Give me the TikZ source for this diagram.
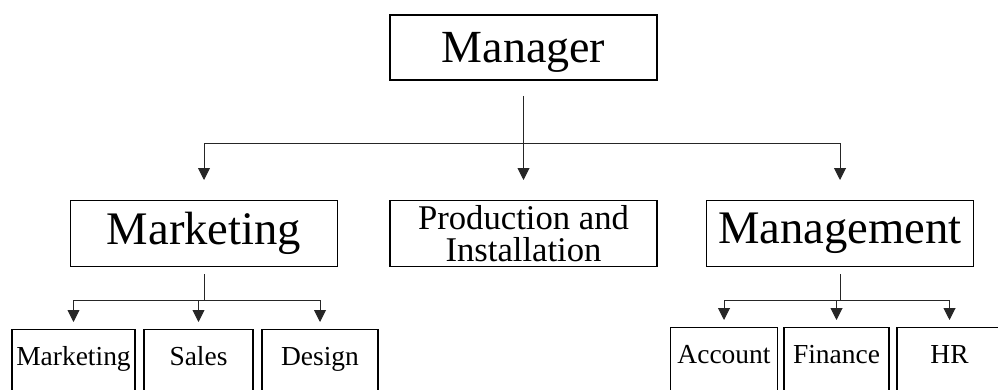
\documentclass[tikz,border=0pt]{standalone}
\usepackage{fontspec}
\setmainfont{Liberation Serif}
\usepackage{tikz}
\usetikzlibrary{arrows.meta}
\tikzstyle{head} = [rectangle, minimum width=200pt, minimum height=49pt, text height=23pt, text depth=1pt, text centered, draw=black, line width=1.1pt, font=\fontsize{34.5}{36}\selectfont]
\tikzstyle{dept} = [rectangle, anchor=north, minimum width=200pt, minimum height=49.5pt, align=center, draw=black, line width=1.1pt, font=\fontsize{35}{38}\selectfont]
\tikzstyle{unit} = [rectangle, anchor=north, inner xsep=1.5pt, inner ysep=0pt, text height=27pt, text depth=40pt, draw=black, line width=1.1pt, font=\fontsize{20.6}{24}\selectfont]
\tikzstyle{link} = [line width=0.7pt, draw=black!85]
\tikzstyle{arrow} = [link, -{Triangle[width=9pt,length=9pt]}]

\begin{document}
\begin{tikzpicture}[x=0.75pt, y=-0.75pt]
  \useasboundingbox (0,0) rectangle (998,389);
  \clip (0,0) rectangle (998,389);
  \node (manager) [head] at (523.5,47.5) {Manager};
  \node (marketing) [dept] at (204,200) {Marketing};
  \node (production) [dept, font=\fontsize{26}{23.5}\selectfont] at (523.5,200) {Production and\\Installation};
  \node (management) [dept] at (840,200) {Management};
  \node (marketing2) [unit, minimum width=92pt] at (73.5,329) {Marketing};
  \node (sales) [unit, minimum width=82pt] at (198.5,329) {Sales};
  \node (design) [unit, minimum width=87pt] at (320,329) {Design};
  \node (account) [unit, minimum width=80pt] at (724,327) {Account};
  \node (finance) [unit, minimum width=79pt] at (836.5,327) {Finance};
  \node (hr) [unit, minimum width=79pt] at (949.5,327) {HR};
  % manager down to the departments
  \coordinate (top hub) at ([yshift=-47.25pt]manager.south);
  \draw[link] ([yshift=-11.25pt]manager.south) -- (top hub);
  \draw[arrow, shorten >=15pt] (top hub) -| (marketing);
  \draw[arrow, shorten >=15pt] (top hub) -- (top hub |- production.north);
  \draw[arrow, shorten >=15pt] (top hub) -| (management);
  % marketing team
  \coordinate (left hub) at ([yshift=-24.75pt]marketing.south);
  \draw[link] ([yshift=-5.25pt]marketing.south) -- (left hub);
  \draw[arrow, shorten >=5.25pt] (left hub) -| (marketing2);
  \draw[arrow, shorten >=5.25pt] (left hub) -| (sales);
  \draw[arrow, shorten >=5.25pt] (left hub) -| (design);
  % management team
  \coordinate (right hub) at ([yshift=-24.75pt]management.south);
  \draw[link] ([yshift=-5.25pt]management.south) -- (right hub);
  \draw[arrow, shorten >=5.25pt] (right hub) -| (account);
  \draw[arrow, shorten >=5.25pt] (right hub) -| (finance);
  \draw[arrow, shorten >=5.25pt] (right hub) -| (hr);
\end{tikzpicture}
\end{document}
